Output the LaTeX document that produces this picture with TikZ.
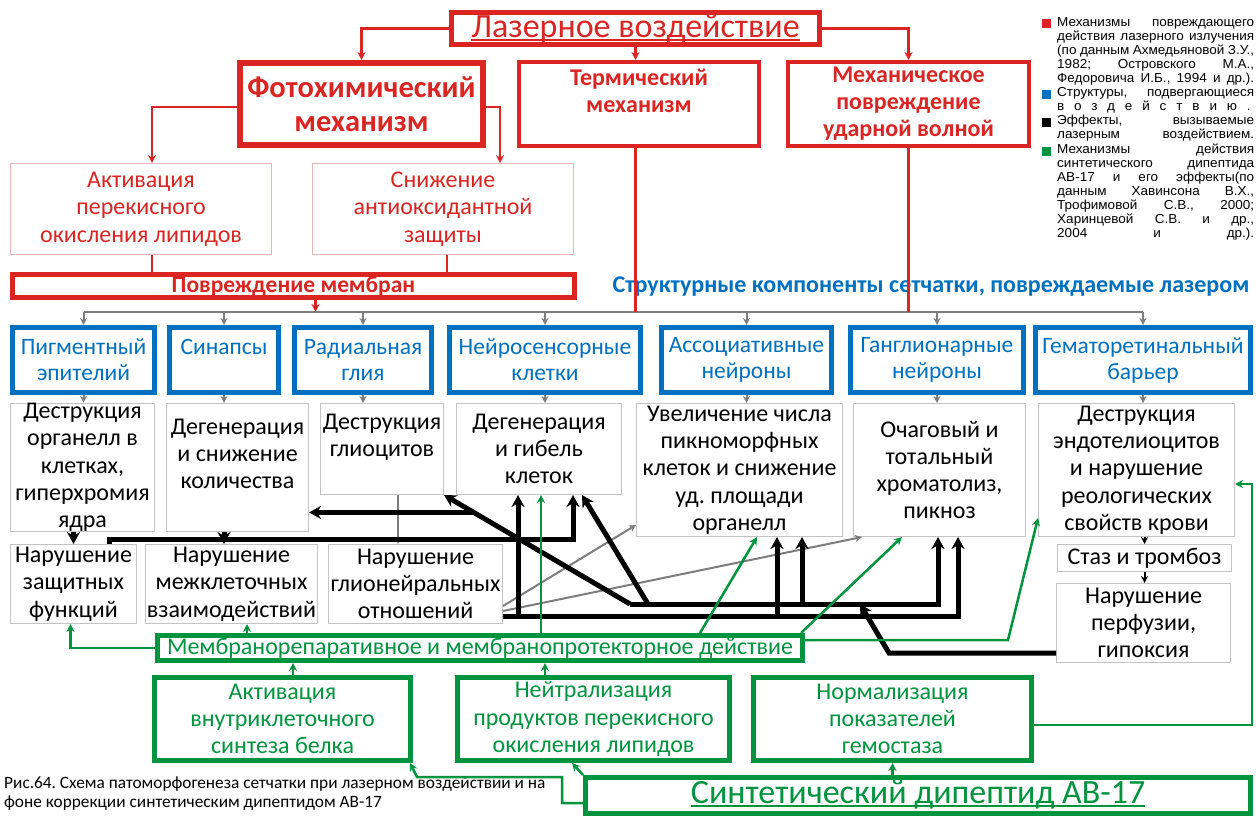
\documentclass[tikz,border=0pt]{standalone}
\usepackage{fontspec}
\setmainfont{Carlito}
\newfontfamily\legendfont[FakeStretch=1.04]{Liberation Sans}
\usetikzlibrary{arrows.meta}

\definecolor{laserred}{RGB}{218,37,34}
\definecolor{palered}{RGB}{236,182,182}
\definecolor{retblue}{RGB}{0,112,192}
\definecolor{drugreen}{RGB}{0,148,62}
\definecolor{linegray}{RGB}{125,125,125}
\definecolor{boxgray}{RGB}{195,195,195}

\newcommand{\fmain}{\fontsize{24}{27.3}\selectfont}
\newcommand{\lineunder}[2]{\setbox0\hbox{#2}\rlap{\rule[-#1]{\wd0}{1.6pt}}\box0}

\tikzstyle{redbox} = [rectangle, draw=laserred, line width=5pt, text=laserred, align=center, inner sep=0pt]
\tikzstyle{palebox} = [rectangle, draw=palered, line width=1pt, text=laserred, align=center, inner sep=0pt, font=\fmain]
\tikzstyle{bluebox} = [rectangle, draw=retblue, line width=5pt, text=retblue, align=center, inner sep=0pt, minimum height=65pt, font=\fontsize{23.5}{26}\selectfont]
\tikzstyle{effect} = [rectangle, draw=boxgray, line width=1pt, align=center, inner sep=0pt, font=\fmain]
\tikzstyle{greenbox} = [rectangle, draw=drugreen, line width=5pt, text=drugreen, align=center, inner sep=0pt, font=\fmain]
\tikzstyle{redarrow} = [line width=2.5pt, draw=laserred, -{Stealth[length=8pt, width=8pt]}]
\tikzstyle{redline} = [line width=2.5pt, draw=laserred]
\tikzstyle{grayarrow} = [line width=2pt, draw=linegray, -{Stealth[length=7pt, width=7pt]}]
\tikzstyle{grayline} = [line width=2.5pt, draw=linegray]
\tikzstyle{blackarrow} = [line width=5pt, draw=black, -{Stealth[length=12pt, width=13pt]}]
\tikzstyle{thinarrow} = [line width=2pt, draw=black, -{Stealth[length=7pt, width=7pt]}]
\tikzstyle{greenarrow} = [line width=2.5pt, draw=drugreen, -{Stealth[length=8pt, width=8pt]}]

\begin{document}
\frenchspacing
\begin{tikzpicture}[x=1pt, y=-1pt]
    \useasboundingbox [fill=white] (0,0) rectangle (1257,818);

    % Механизмы повреждения
    \node (laser) [redbox, minimum width=368pt, minimum height=32pt, text height=24pt, text depth=6pt, font=\fontsize{34}{36}\selectfont] at (635.5,28.5) {\lineunder{3.5pt}{Лазерное воздействие}};
    \node (photo) [redbox, line width=6pt, minimum width=243pt, minimum height=82pt, font=\bfseries\fontsize{30.5}{34}\selectfont] at (361.5,104) {Фотохимический\\механизм};
    \node (therm) [redbox, line width=4pt, minimum width=240pt, minimum height=84pt, font=\bfseries\fontsize{24}{27}\selectfont] at (639,104) {Термический\\механизм\\~};
    \node (shock) [redbox, line width=4pt, minimum width=241pt, minimum height=84pt, font=\bfseries\fontsize{24}{27}\selectfont] at (908.5,104) {Механическое\\повреждение\\ударной волной};
    \node (lpo) [palebox, minimum width=261pt, minimum height=91pt] at (141,209) {Активация\\перекисного\\окисления липидов};
    \node (antiox) [palebox, minimum width=261pt, minimum height=91pt] at (443,209) {Снижение\\антиоксидантной\\защиты};
    \node (membr) [redbox, minimum width=562pt, minimum height=23pt, text height=16pt, text depth=3pt, font=\bfseries\fontsize{23.5}{24}\selectfont] at (293.5,286) {Повреждение мембран};
    \node (title) [text=retblue, font=\bfseries\fontsize{24}{28}\selectfont] at (931,287) {Структурные компоненты сетчатки, повреждаемые лазером};

    % Структуры сетчатки
    \node (pigm) [bluebox, minimum width=142pt] at (83.5,360) {Пигментный\\эпителий};
    \node (synap) [bluebox, minimum width=109pt] at (224,360) {Синапсы\\~};
    \node (glia) [bluebox, minimum width=137pt] at (363,360) {Радиальная\\глия};
    \node (neuro) [bluebox, minimum width=191pt] at (545,360) {Нейросенсорные\\клетки};
    \node (assoc) [bluebox, minimum width=170pt] at (746.5,360) {Ассоциативные\\нейроны};
    \node (gangl) [bluebox, minimum width=173pt] at (937,360) {Ганглионарные\\нейроны};
    \node (barrier) [bluebox, minimum width=215pt] at (1143,360) {Гематоретинальный\\барьер};

    % Эффекты лазера
    \node (destr) [effect, minimum width=144pt, minimum height=128pt] at (82.5,467.5) {Деструкция\\органелл в\\клетках,\\гиперхромия\\ядра};
    \node (degen) [effect, minimum width=142pt, minimum height=128pt] at (237.5,467.5) {Дегенерация\\и снижение\\количества\\~};
    \node (gliod) [effect, minimum width=123pt, minimum height=91pt] at (382,449) {Деструкция\\глиоцитов\\~};
    \node (death) [effect, minimum width=165pt, minimum height=91pt] at (539,449) {Дегенерация\\и гибель\\клеток};
    \node (pykno) [effect, minimum width=206pt, minimum height=133pt] at (739.5,470) {Увеличение числа\\пикноморфных\\клеток и снижение\\уд. площади\\органелл};
    \node (chrom) [effect, minimum width=172pt, minimum height=133pt] at (939.5,470) {Очаговый и\\тотальный\\хроматолиз,\\пикноз};
    \node (endo) [effect, minimum width=196pt, minimum height=133pt] at (1136.5,470) {Деструкция\\эндотелиоцитов\\и нарушение\\реологических\\свойств крови};
    \node (protect) [effect, minimum width=126pt, minimum height=79pt] at (73.5,584) {Нарушение\\защитных\\функций};
    \node (contact) [effect, minimum width=172pt, minimum height=79pt] at (231.5,584) {Нарушение\\межклеточных\\взаимодействий};
    \node (glion) [effect, minimum width=174pt, minimum height=79pt] at (415.5,584) {Нарушение\\глионейральных\\отношений};
    \node (stasis) [effect, minimum width=174pt, minimum height=27pt] at (1144.5,558) {Стаз и тромбоз};
    \node (perfus) [effect, minimum width=174pt, minimum height=79pt] at (1143.5,623) {Нарушение\\перфузии,\\гипоксия};

    % Действие дипептида
    \node (repair) [greenbox, minimum width=645pt, minimum height=25pt] at (480,648) {Мембранорепаративное и мембранопротекторное действие};
    \node (protein) [greenbox, minimum width=256pt, minimum height=83pt] at (282.5,719) {Активация\\внутриклеточного\\синтеза белка};
    \node (neutral) [greenbox, minimum width=272pt, minimum height=83pt] at (593.5,719) {Нейтрализация\\продуктов перекисного\\окисления липидов};
    \node (hemost) [greenbox, minimum width=278pt, minimum height=83pt] at (892.5,719) {Нормализация\\показателей\\гемостаза};
    \node (drug) [greenbox, minimum width=665pt, minimum height=36pt, text height=22pt, text depth=6pt, font=\fontsize{34}{35}\selectfont] at (918,795.5) {\lineunder{3pt}{Синтетический дипептид АВ-17}};

    % Подпись и легенда
    \node (caption) [anchor=north west, align=left, inner sep=0pt, font=\fontsize{17.3}{19}\selectfont] at (4,777) {Рис.64. Схема патоморфогенеза сетчатки при лазерном воздействии и на\\фоне коррекции синтетическим дипептидом АВ-17};
    \node (legend) [anchor=north west, align=left, inner sep=0pt, font=\legendfont\fontsize{13}{14.1}\selectfont] at (1057,17) {%
        \makebox[197pt][s]{Механизмы повреждающего}\\
        \makebox[197pt][s]{действия лазерного излучения}\\
        \makebox[197pt][s]{(по данным Ахмедьяновой З.У.,}\\
        \makebox[197pt][s]{1982; Островского М.А.,}\\
        \makebox[197pt][s]{Федоровича И.Б., 1994 и др.).}\\
        \makebox[197pt][s]{Структуры, подвергающиеся}\\
        {\addfontfeature{LetterSpace=76}воздействию.}\\
        \makebox[197pt][s]{Эффекты, вызываемые}\\
        \makebox[197pt][s]{лазерным воздействием.}\\
        \makebox[197pt][s]{Механизмы действия}\\
        \makebox[197pt][s]{синтетического дипептида}\\
        \makebox[197pt][s]{АВ-17 и его эффекты(по}\\
        \makebox[197pt][s]{данным Хавинсона В.Х.,}\\
        \makebox[197pt][s]{Трофимовой С.В., 2000;}\\
        \makebox[197pt][s]{Харинцевой С.В. и др.,}\\
        \makebox[197pt][s]{2004 и др.).}};
    \fill [laserred] (1042,19) rectangle (1051,28);
    \fill [retblue] (1042,90) rectangle (1051,99);
    \fill [black] (1042,118) rectangle (1051,127);
    \fill [drugreen] (1042,147) rectangle (1051,156);

    % Красные связи
    \coordinate (busL) at (83.5,312);
    \coordinate (busR) at (1143,312);
    \draw [redarrow] (laser.west) -| (photo.north);
    \draw [redarrow] (laser.south) -- (laser.south |- therm.north);
    \draw [redarrow] (laser.east) -| (shock.north);
    \draw [redarrow] ([yshift=-3pt]photo.west) -| ([xshift=11pt]lpo.north);
    \draw [redarrow] ([yshift=-3pt]photo.east) -| ([xshift=57pt]antiox.north);
    \draw [redline] ([xshift=11pt]lpo.south) -- ([xshift=11pt]lpo.south |- membr.north);
    \draw [redline] ([xshift=4pt]antiox.south) -- ([xshift=4pt]antiox.south |- membr.north);
    \draw [grayline] (busL) -- (busR);
    \draw [redarrow] ([xshift=22pt]membr.south) -- ([xshift=22pt]membr.south |- busL);
    \draw [redline] (laser.south |- therm.south) -- (laser.south |- busL);
    \draw [redline] (shock.south) -- (shock.south |- busL);

    % Серые связи
    \draw [grayarrow] (pigm.north |- busL) -- (pigm.north);
    \draw [grayarrow] (synap.north |- busL) -- (synap.north);
    \draw [grayarrow] (glia.north |- busL) -- (glia.north);
    \draw [grayarrow] (neuro.north |- busL) -- (neuro.north);
    \draw [grayarrow] (assoc.north |- busL) -- (assoc.north);
    \draw [grayarrow] (gangl.north |- busL) -- (gangl.north);
    \draw [grayarrow] (barrier.north |- busL) -- (barrier.north);
    \draw [grayarrow] (pigm.south) -- (pigm.south |- destr.north);
    \draw [grayarrow] (synap.south) -- (synap.south |- degen.north);
    \draw [grayarrow] (glia.south) -- (glia.south |- gliod.north);
    \draw [grayarrow] (neuro.south) -- (neuro.south |- death.north);
    \draw [grayarrow] (assoc.south) -- (assoc.south |- pykno.north);
    \draw [grayarrow] (gangl.south) -- (gangl.south |- chrom.north);
    \draw [grayarrow] (barrier.south) -- (barrier.south |- endo.north);
    \draw [grayarrow] ([xshift=16pt]gliod.south) -- ([xshift=16pt]gliod.south |- glion.north);
    \draw [grayarrow] ([yshift=-22pt]glion.east) -- ([yshift=-55pt]pykno.west);
    \draw [grayarrow] ([yshift=-27pt]glion.east) -- ([xshift=9pt]chrom.south west);

    % Черные связи
    \draw [blackarrow] (protect.north |- destr.south) -- (protect.north);
    \draw [blackarrow] (synap.south |- degen.south) -- (synap.south |- contact.north);
    \draw [blackarrow] ([xshift=36pt]protect.north) -- ++(0,-5) -| ([xshift=34pt]death.south);
    \coordinate (ub1) at (630,604);
    \coordinate (ub2) at (648,604);
    \coordinate (uj) at (860,604);
    \coordinate (pk) at (889,653);
    \draw [blackarrow] (ub1) -| ([xshift=-1.5pt]chrom.south);
    \draw [blackarrow] ([xshift=62.5pt]pykno.south |- ub1) -- ([xshift=62.5pt]pykno.south);
    \draw [blackarrow] (ub2) -- ([xshift=43pt]death.south);
    \draw [blackarrow] (ub1) -- (gliod.south east);
    \path (ub1) -- (gliod.south east) coordinate[pos=0.84] (bj);
    \draw [blackarrow] (bj) -- (bj -| degen.east);
    \draw [blackarrow] ([yshift=-30pt]perfus.west) -- (pk) -- (uj);
    \coordinate (lb) at ([yshift=-32pt]glion.east);
    \draw [blackarrow] (lb) -| ([xshift=18.5pt]chrom.south);
    \draw [blackarrow] ([xshift=-21pt]death.south |- lb) -- ([xshift=-21pt]death.south);
    \draw [blackarrow] ([xshift=37.5pt]pykno.south |- lb) -- ([xshift=37.5pt]pykno.south);
    \draw [thinarrow] (stasis.north |- endo.south) -- (stasis.north);
    \draw [thinarrow] (stasis.south) -- (stasis.south |- perfus.north);

    % Зеленые связи
    \coordinate (gk) at (1008,640);
    \coordinate (gR) at (1252,484);
    \coordinate (gd) at (562,777);
    \coordinate (gp) at (417,777);
    \draw [greenarrow] ([xshift=61pt]repair.north) -- ([xshift=61pt]repair.north |- death.south);
    \draw [greenarrow] (repair.west) -| ([xshift=-3pt]protect.south);
    \draw [greenarrow] ([xshift=15.5pt]contact.south |- repair.north) -- ([xshift=15.5pt]contact.south);
    \draw [greenarrow] ([xshift=220pt]repair.north) -- ([xshift=17.5pt]pykno.south);
    \draw [greenarrow] ([xshift=321pt]repair.north) -- ([xshift=-37.5pt]chrom.south);
    \draw [greenarrow] ([yshift=8pt]repair.east) -- (gk) -- ([yshift=-48pt]endo.west);
    \draw [greenarrow] ([yshift=-6pt]hemost.east) -| (gR) -- (gR -| endo.east);
    \draw [greenarrow] ([xshift=10.5pt]protein.north) -- ([xshift=10.5pt]protein.north |- repair.south);
    \draw [greenarrow] ([xshift=-48.5pt]neutral.north) -- ([xshift=-48.5pt]neutral.north |- repair.south);
    \draw [greenarrow] (hemost.south |- drug.north) -- (hemost.south);
    \draw [greenarrow] ([yshift=-7.5pt]drug.west) -| (gd) -- (gp) -- ([xshift=-3pt]protein.south east);
    \draw [greenarrow] (drug.north west) -- ([xshift=-21.5pt]neutral.south);

\end{tikzpicture}
\end{document}
